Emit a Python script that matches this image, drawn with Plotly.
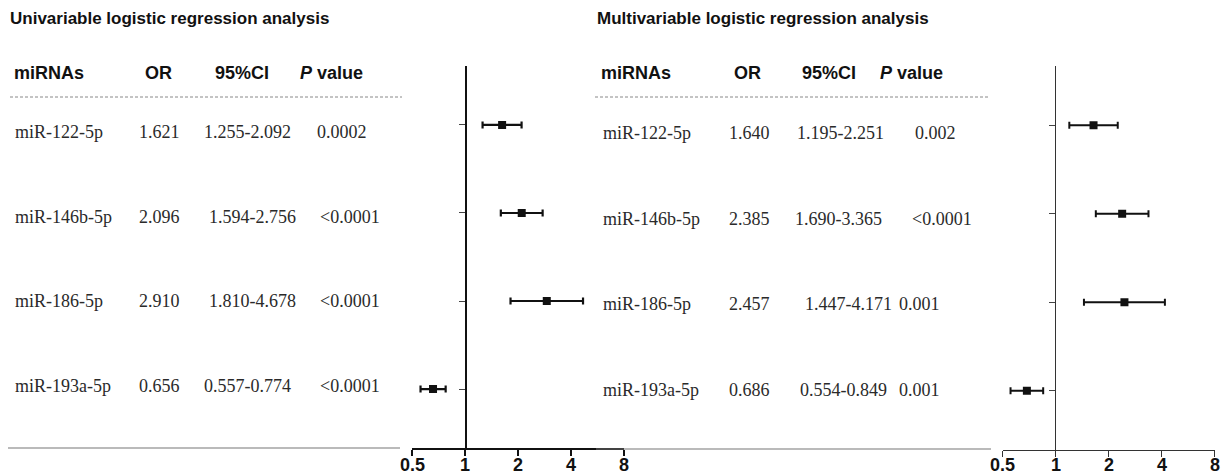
import plotly.graph_objects as go
import math

W, H = 1226, 476

# ---------------- data ----------------
mirnas = ["miR-122-5p", "miR-146b-5p", "miR-186-5p", "miR-193a-5p"]

uni_or = [1.621, 2.096, 2.910, 0.656]
uni_lo = [1.255, 1.594, 1.810, 0.557]
uni_hi = [2.092, 2.756, 4.678, 0.774]
uni_p = ["0.0002", "<0.0001", "<0.0001", "<0.0001"]

multi_or = [1.640, 2.385, 2.457, 0.686]
multi_lo = [1.195, 1.690, 1.447, 0.554]
multi_hi = [2.251, 3.365, 4.171, 0.849]
multi_p = ["0.002", "<0.0001", "0.001", "0.001"]

x_ticks = [0.5, 1, 2, 4, 8]
x_ticklabels = ["0.5", "1", "2", "4", "8"]
headers = ["miRNAs", "OR", "95%CI", "<i>P</i> value"]
titles = ["Univariable logistic regression analysis", "Multivariable logistic regression analysis"]

row_pos = [4, 3, 2, 1]

# ---------------- helpers ----------------
def px(x):
    return x / W

def py(y):
    return 1 - y / H

fig = go.Figure()

def ci_str(lo, hi):
    return f"{lo:.3f}-{hi:.3f}"

for i, (ors, los, his, xa, ya, lw) in enumerate([
        (uni_or, uni_lo, uni_hi, "x", "y", 2.2),
        (multi_or, multi_lo, multi_hi, "x2", "y2", 2.0)]):
    fig.add_trace(go.Scatter(
        x=ors, y=row_pos, mode="markers",
        marker=dict(symbol="square", size=8, color="#111111"),
        error_x=dict(type="data", symmetric=False,
                     array=[h - o for h, o in zip(his, ors)],
                     arrayminus=[o - l for o, l in zip(ors, los)],
                     color="#111111", thickness=lw, width=3.5),
        xaxis=xa, yaxis=ya, showlegend=False, hoverinfo="skip"))

panels = [
    dict(x0=412.3, x1=624.0, xone=465.7, ybot=448, ytop=66, axcol="#111111", axw=1.6),
    dict(x0=1002.7, x1=1214.7, xone=1055.3, ybot=450, ytop=66, axcol="#333333", axw=1.1),
]

ann = []
shapes = []

tick_font = dict(family="Liberation Sans, Arial", size=18, color="#111111")
for k, p in enumerate(panels):
    sx = "" if k == 0 else "2"
    fig.update_layout(**{
        f"xaxis{sx}": dict(
            type="log", range=[math.log10(0.5), math.log10(8)],
            domain=[px(p["x0"]), px(p["x1"])],
            anchor=f"y{sx}",
            showline=True, linecolor=p["axcol"], linewidth=p["axw"],
            ticks="outside", ticklen=6, tickwidth=p["axw"], tickcolor=p["axcol"],
            tickvals=x_ticks, showticklabels=False,
            showgrid=False, zeroline=False, fixedrange=True),
        f"yaxis{sx}": dict(
            range=[0.33, 4.67], domain=[py(p["ybot"]), py(p["ytop"])],
            anchor="free", position=px(p["xone"]),
            showline=True, linecolor=p["axcol"], linewidth=p["axw"],
            ticks="outside", ticklen=6, tickwidth=1, tickcolor="#444444",
            tickvals=row_pos, showticklabels=False,
            showgrid=False, zeroline=False, fixedrange=True),
    })
    # tick labels placed on the axis scale, kept inside the page
    for tv, tl in zip(x_ticks, x_ticklabels):
        ann.append(dict(x=math.log10(tv), xref=f"x{sx}", y=0, yref="paper",
                        text=f"<b>{tl}</b>", showarrow=False, borderpad=0,
                        xanchor="center", yanchor="bottom", font=tick_font))

tables = [
    dict(title_x=8, hdr_x=[12, 143, 213, 298], line=(10, 402), bline=(8, 400, 448),
         name_x=13, or_x=137, ci_x=[202, 207, 207, 202], p_x=[315, 318, 318, 318],
         rows_y=[132, 217, 301, 386],
         ors=uni_or, los=uni_lo, his=uni_hi, ps=uni_p),
    dict(title_x=595, hdr_x=[599, 732, 800, 878], line=(595, 990), bline=(596, 991, 449),
         name_x=601, or_x=727, ci_x=[795, 793, 803, 798], p_x=[913, 910, 897, 897],
         rows_y=[133, 219, 304, 390],
         ors=multi_or, los=multi_lo, his=multi_hi, ps=multi_p),
]

serif = dict(family="Liberation Serif, Times New Roman", size=18, color="#2a2a2a")
sans_b = dict(family="Liberation Sans, Arial", size=18, color="#111111")
title_f = dict(family="Liberation Sans, Arial", size=17, color="#111111")

for k, t in enumerate(tables):
    ann.append(dict(x=px(t["title_x"]), y=py(19), xref="paper", yref="paper",
                    text=f"<b>{titles[k]}</b>", showarrow=False,
                    xanchor="left", yanchor="middle", font=title_f))
    for h, hx in zip(headers, t["hdr_x"]):
        ann.append(dict(x=px(hx), y=py(73), xref="paper", yref="paper",
                        text=f"<b>{h}</b>", showarrow=False,
                        xanchor="left", yanchor="middle", font=sans_b))
    shapes.append(dict(type="line", xref="paper", yref="paper",
                       x0=px(t["line"][0]), x1=px(t["line"][1]), y0=py(97), y1=py(97),
                       line=dict(color="#888888", width=1, dash="3px,2px")))
    bx0, bx1, by = t["bline"]
    shapes.append(dict(type="line", xref="paper", yref="paper",
                       x0=px(bx0), x1=px(bx1), y0=py(by), y1=py(by),
                       line=dict(color="#777777", width=1.2)))
    for i in range(4):
        yy = py(t["rows_y"][i])
        cells = [(t["name_x"], mirnas[i]),
                 (t["or_x"], f"{t['ors'][i]:.3f}"),
                 (t["ci_x"][i], ci_str(t["los"][i], t["his"][i])),
                 (t["p_x"][i], t["ps"][i])]
        for cx, txt in cells:
            ann.append(dict(x=px(cx), y=yy, xref="paper", yref="paper",
                            text=txt.replace("<", "&lt;"), showarrow=False,
                            xanchor="left", yanchor="middle", font=serif))

fig.update_layout(
    width=W, height=H, margin=dict(l=0, r=0, t=0, b=0),
    paper_bgcolor="white", plot_bgcolor="white",
    annotations=ann, shapes=shapes, showlegend=False,
)

post = "document.body.style.margin='0';document.body.style.padding='0';"

fig.write_html("out.html", config={"displayModeBar": False}, post_script=post)
